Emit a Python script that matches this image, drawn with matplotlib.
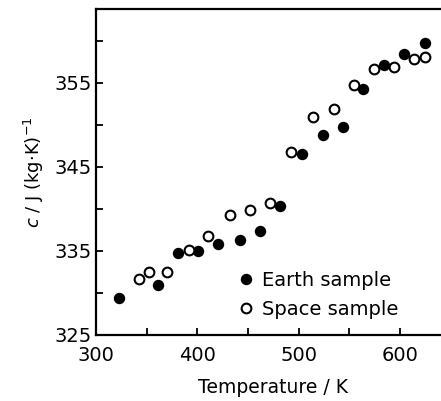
import matplotlib
matplotlib.use('Agg')
import matplotlib.pyplot as plt

# Earth sample (filled circles)
earth_T = [322.7, 360.9, 380.6, 400.4, 420.7, 441.8, 461.9, 481.9,
           503.0, 524.4, 544.1, 563.9, 584.6, 604.4, 624.8]
earth_c = [329.4, 331.0, 334.7, 335.0, 335.8, 336.3, 337.4, 340.4,
           346.5, 348.8, 349.7, 354.3, 357.1, 358.45, 359.7]

# Space sample (open circles)
space_T = [342.4, 352.3, 370.4, 391.5, 410.9, 432.6, 452.3, 472.1,
           492.8, 514.5, 534.9, 554.7, 574.4, 594.5, 614.2, 624.8]
space_c = [331.7, 332.5, 332.5, 335.1, 336.8, 339.3, 339.9, 340.7,
           346.8, 350.9, 351.9, 354.7, 356.6, 356.9, 357.9, 358.1]

x_ticks = [300, 350, 400, 450, 500, 550, 600, 650]
x_labels = ['300', '', '400', '', '500', '', '600', '']
y_ticks = [325, 330, 335, 340, 345, 350, 355, 360]
y_labels = ['325', '', '335', '', '345', '', '355', '']

fig = plt.figure(figsize=(4.41, 4.01), dpi=100)
ax = fig.add_axes([0.2177, 0.1646, 0.804, 0.813])

ax.plot(earth_T, earth_c, 'o', color='black', markersize=7.2, label='Earth sample')
ax.plot(space_T, space_c, 'o', markerfacecolor='white', markeredgecolor='black',
        markeredgewidth=1.5, markersize=7.0, label='Space sample')

ax.set_xlim(300, 650)
ax.set_ylim(325, 363.8)
ax.set_xticks(x_ticks)
ax.set_xticklabels(x_labels)
ax.set_yticks(y_ticks)
ax.set_yticklabels(y_labels)
ax.tick_params(direction='in', length=5, width=1.3, labelsize=14)
ax.tick_params(axis='x', pad=8)
ax.tick_params(axis='y', pad=3)
for s in ax.spines.values():
    s.set_linewidth(1.6)

ax.set_xlabel('Temperature / K', fontsize=13.5, labelpad=9)
ax.set_ylabel('$c$ / J (kg·K)$^{-1}$', fontsize=13, labelpad=6)

ax.legend(loc='center left', bbox_to_anchor=(0.40, 0.123), frameon=False,
          fontsize=14, handlelength=0.8, handletextpad=0.44, borderpad=0,
          labelspacing=0.55, borderaxespad=0)

fig.savefig('out.png', dpi=100)
